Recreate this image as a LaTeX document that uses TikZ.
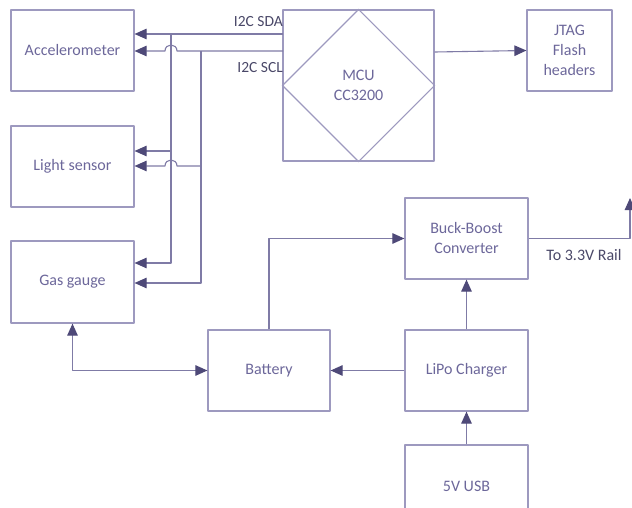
\documentclass[tikz,border=0pt]{standalone}
\usepackage{fontspec}
\setmainfont{Carlito}
\usetikzlibrary{arrows.meta,positioning,calc}
\definecolor{boxline}{HTML}{9D99BF}
\definecolor{wireline}{HTML}{7F7BA6}
\definecolor{tipfill}{HTML}{4E4978}
\definecolor{boxtext}{HTML}{6C679A}
\definecolor{ink}{HTML}{4A4868}
\newcommand\blockfont{\fontsize{16}{20}\selectfont}
\newcommand\busfont{\fontsize{15.5}{18}\selectfont}
\tikzset{
    every picture/.style={line join=round},
    blockbox/.style={draw=boxline,line width=1.2pt,rectangle,
      minimum width=123pt,minimum height=81pt,inner sep=2pt,
      text=boxtext,align=center,font=\blockfont},
    outline/.style={draw=boxline,line width=1.2pt},
    wire/.style={draw=wireline,line width=1.1pt,
      -{Triangle[length=12pt,width=10.5pt,color=tipfill]}},
    buslabel/.style={text=ink,font=\busfont,inner sep=0pt}
}
\begin{document}
\begin{tikzpicture}[x=1pt,y=-1pt]
    \useasboundingbox (0,0) rectangle (632,508);
    % blocks
    \node[blockbox] (acc) at (72.5,50.5) {Accelerometer};
    \node[blockbox] (light) at (72.5,166.5) {Light sensor};
    \node[blockbox,minimum height=82pt] (gas) at (72.5,282) {Gas gauge};
    \node[blockbox,minimum width=151pt,minimum height=151pt] (mcu) at (358.5,85.5) {MCU\\CC3200};
    \node[blockbox,minimum width=85pt] (jtag) at (569.5,50.5) {JTAG\\Flash\\headers};
    \node[blockbox] (buck) at (466.5,238.5) {Buck-Boost\\Converter};
    \node[blockbox,minimum width=122pt] (bat) at (269,370.5) {Battery};
    \node[blockbox] (lipo) at (466.5,370.5) {LiPo Charger};
    \node[blockbox,minimum height=82pt] (usb) at (466.5,486) {5V USB};
    \draw[outline] (mcu.north) -- (mcu.east) -- (mcu.south) -- (mcu.west) -- cycle;
    % i2c bus
    \coordinate (sda) at (283,34);
    \coordinate (scl) at (283,51);
    \coordinate (sdabus) at (171,34);
    \coordinate (sclbus) at (201,51);
    \node[buslabel,anchor=east] (sdalbl) at (283,22) {I2C SDA};
    \node[buslabel,anchor=east] (scllbl) at (283,67.5) {I2C SCL};
    \draw[wire] (sda) -- (acc.east |- sda);
    \draw[wire] (sdabus) |- (light.east |- 0,151);
    \draw[wire] (sdabus) |- (gas.east |- 0,263);
    \draw[wire] (scl) -- ([xshift=6pt]sdabus |- scl)
      .. controls +(0,-8) and +(0,-8) .. ([xshift=-6pt]sdabus |- scl) -- (acc.east |- scl);
    \draw[wire] (sclbus |- 0,166) -- ([xshift=6pt]sdabus |- 0,166)
      .. controls +(0,-8) and +(0,-8) .. ([xshift=-6pt]sdabus |- 0,166) -- (light.east |- 0,166);
    \draw[wire] (sclbus) |- (gas.east |- 0,283);
    % power
    \coordinate (rail) at (630,198);
    \draw[wire] (mcu.east |- 0,52) -- (jtag.west);
    \draw[wire,{Triangle[length=12pt,width=10.5pt,color=tipfill]}-{Triangle[length=12pt,width=10.5pt,color=tipfill]}]
      (gas.south) |- (bat.west);
    \draw[wire] (bat.north) |- (buck.west);
    \draw[wire] (buck.east) -| (rail);
    \node[buslabel,font=\blockfont] (raillbl) at (584,255.5) {To 3.3V Rail};
    \foreach \x/\y in {lipo.north/buck.south,lipo.west/bat.east,usb.north/lipo.south}
        \draw[wire] (\x) -- (\y);
\end{tikzpicture}
\end{document}
